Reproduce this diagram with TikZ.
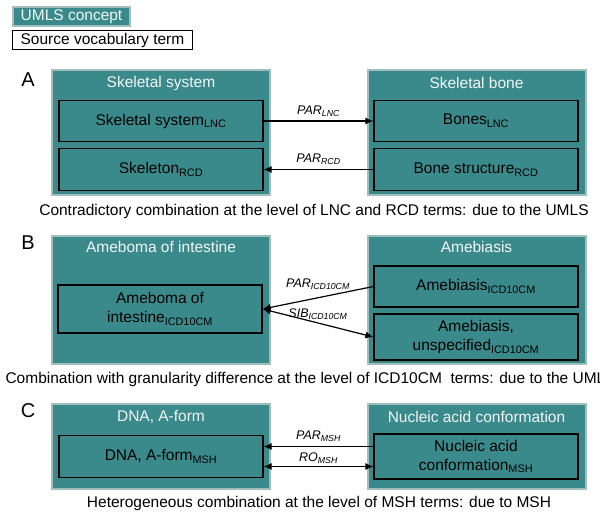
\documentclass[tikz,border=0pt]{standalone}
\usepackage{fontspec}
\setmainfont{Liberation Sans}
\usetikzlibrary{arrows.meta}
\definecolor{umlsteal}{RGB}{58,138,140}
\definecolor{umlsedge}{RGB}{160,190,190}
\definecolor{umlstitle}{RGB}{242,246,246}

\begin{document}
\begin{tikzpicture}[x=1pt, y=-1pt,
  concept/.style={fill=umlsteal, draw=umlsedge, line width=2pt, inner sep=0pt, minimum width=218pt},
  ctitle/.style={text=umlstitle, font=\fontsize{15.5}{18}\selectfont},
  term/.style={fill=umlsteal, draw=black, line width=1.2pt, minimum width=204pt, align=center,
    inner sep=0pt, font=\fontsize{15.5}{19}\selectfont},
  rel/.style={line width=1.2pt, -{Latex[length=8pt,width=7pt]}},
  relboth/.style={line width=1.2pt, {Latex[length=8pt,width=7pt]}-{Latex[length=8pt,width=7pt]}},
  rellbl/.style={font=\fontsize{12.5}{14}\selectfont\itshape, inner sep=0pt},
  caption/.style={font=\fontsize{15.5}{18}\selectfont},
  panel/.style={font=\fontsize{20}{22}\selectfont}]
  \clip (0,0) rectangle (600,513);

  % legend
  \node[concept, minimum width=117pt, minimum height=19pt, text=umlstitle,
    font=\fontsize{15.5}{18}\selectfont] (legconcept) at (71.5,16.5) {UMLS concept};
  \node[draw=black, fill=white, line width=1.2pt, minimum width=180pt, minimum height=19pt,
    inner sep=0pt, font=\fontsize{15.5}{18}\selectfont] (legterm) at (102.5,40) {Source vocabulary term};

  % A
  \node[panel] (panela) at (28,80) {A};
  \node[concept, minimum height=125pt] (skelsys) at (161,132.5) {};
  \node[ctitle] (skelsystitle) at (161,83) {Skeletal system};
  \node[concept, minimum height=125pt] (skelbone) at (476.5,132.5) {};
  \node[ctitle] (skelbonetitle) at (476.5,83) {Skeletal bone};
  \node[term, minimum height=41pt] (skelsyslnc) at (161,121) {Skeletal system\textsubscript{LNC}};
  \node[term, minimum height=42pt] (skeletonrcd) at (161,169.5) {Skeleton\textsubscript{RCD}};
  \node[term, minimum height=41pt] (boneslnc) at (476,121) {Bones\textsubscript{LNC}};
  \node[term, minimum height=42pt] (bonestrrcd) at (476,169.5) {Bone structure\textsubscript{RCD}};
  \draw[rel] (skelsyslnc) -- node[rellbl, above=4pt] {PAR\textsubscript{LNC}} (boneslnc);
  \draw[rel] (bonestrrcd) -- node[rellbl, above=4pt] {PAR\textsubscript{RCD}} (skeletonrcd);
  \node[caption] (captiona) at (314,211) {Contradictory combination at the level of LNC and RCD terms: due to the UMLS};

  % B
  \node[panel] (panelb) at (28,243) {B};
  \node[concept, minimum height=128pt] (amebint) at (161,300) {};
  \node[ctitle] (amebinttitle) at (161,247) {Ameboma of intestine};
  \node[concept, minimum height=128pt] (amebiasis) at (476.5,300) {};
  \node[ctitle] (amebiasistitle) at (476.5,247) {Amebiasis};
  \node[term, minimum height=48pt] (amebintcm) at (160,309) {Ameboma of\\intestine\textsubscript{ICD10CM}};
  \node[term, minimum height=41pt] (amebiasiscm) at (476,286.5) {Amebiasis\textsubscript{ICD10CM}};
  \node[term, minimum height=46pt] (amebunspcm) at (476,337) {Amebiasis,\\unspecified\textsubscript{ICD10CM}};
  \draw[rel] (amebiasiscm.west) -- node[rellbl, above=8pt] {PAR\textsubscript{ICD10CM}} (amebintcm.east);
  \draw[relboth] (amebintcm.east) -- node[rellbl, above=3pt] {SIB\textsubscript{ICD10CM}} (amebunspcm.west);
  \node[caption, anchor=west] (captionb) at (2,379) {Combination with granularity difference at the level of ICD10CM\ \ terms: due to the UMLS};

  % C
  \node[panel] (panelc) at (28,411) {C};
  \node[concept, minimum height=85pt] (dnaform) at (161,446.5) {};
  \node[ctitle] (dnaformtitle) at (161,417) {DNA, A-form};
  \node[concept, minimum height=85pt] (nuclconf) at (476.5,446.5) {};
  \node[ctitle] (nuclconftitle) at (476.5,417) {Nucleic acid conformation};
  \node[term, minimum height=42pt] (dnaformmsh) at (161,456.5) {DNA, A-form\textsubscript{MSH}};
  \node[term, minimum height=45pt] (nuclconfmsh) at (476,456.5) {Nucleic acid\\conformation\textsubscript{MSH}};
  \draw[rel] ([yshift=10pt]nuclconfmsh.west) -- node[rellbl, above=4pt] {PAR\textsubscript{MSH}} ([yshift=10pt]dnaformmsh.east);
  \draw[relboth] ([yshift=-10pt]dnaformmsh.east) -- node[rellbl, above=2pt] {RO\textsubscript{MSH}} ([yshift=-10pt]nuclconfmsh.west);
  \node[caption] (captionc) at (319,503) {Heterogeneous combination at the level of MSH terms: due to MSH};
\end{tikzpicture}
\end{document}
